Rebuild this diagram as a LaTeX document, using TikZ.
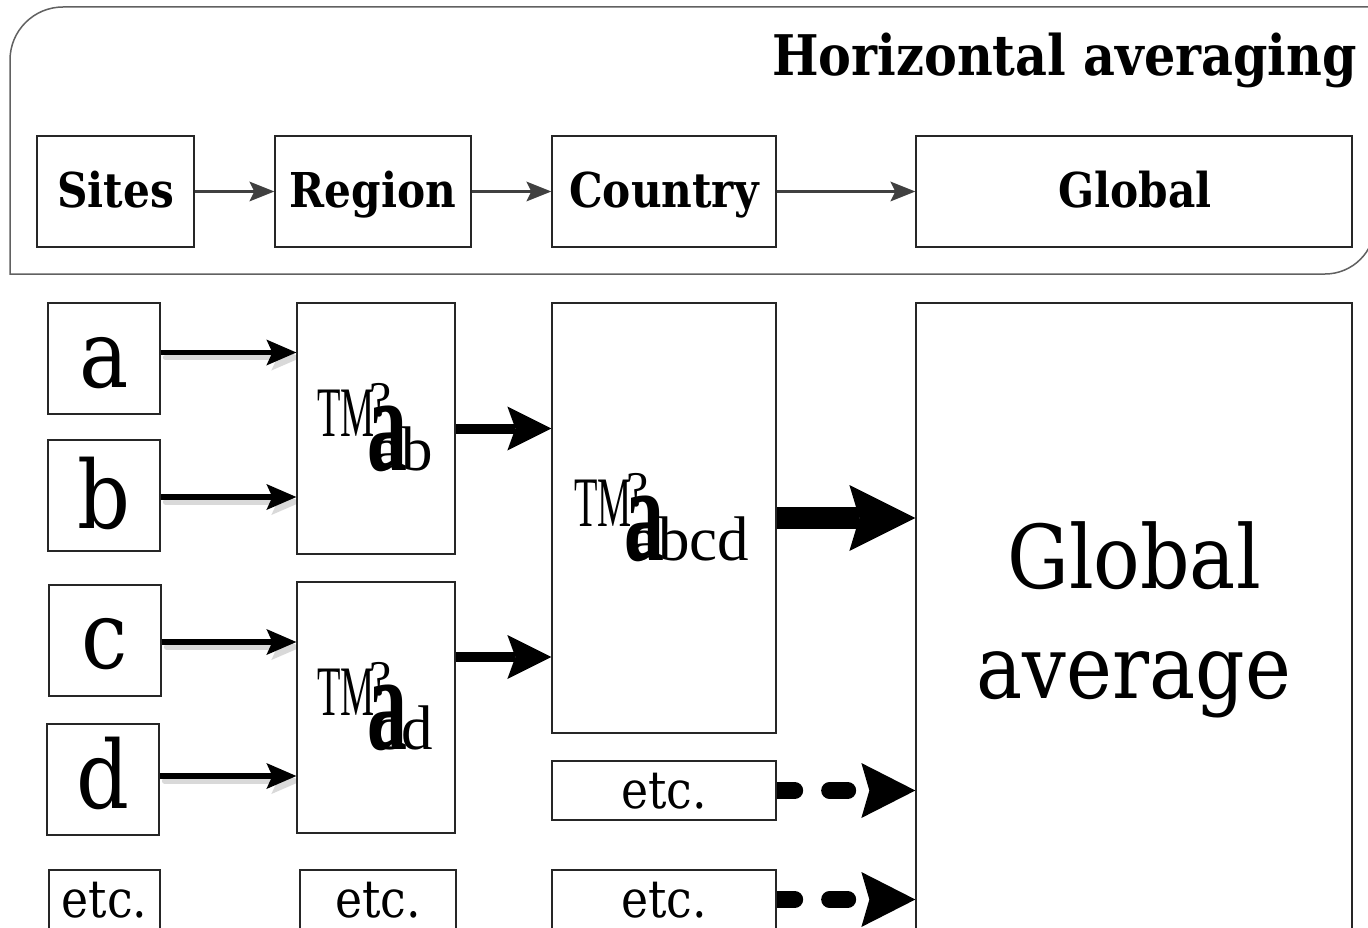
\documentclass[tikz,border=0pt]{standalone}
\usepackage{fontspec}
\usepackage{graphicx}
\usetikzlibrary{arrows.meta}
\newfontfamily\cam[FakeStretch=0.88]{DejaVu Serif}
\newfontfamily\tms{Liberation Serif}
\newfontfamily\tmsc[FakeStretch=0.54]{Liberation Serif}
\newcommand\fs[1]{\fontsize{#1}{#1}\selectfont}
\pgfdeclarelayer{bg}
\pgfdeclarelayer{paper}
\pgfsetlayers{paper,bg,main}
\tikzset{
  box/.style={draw=black!85, line width=1.3pt, fill=white, inner sep=0pt, rectangle},
  lbl/.style={inner sep=0pt, anchor=base},
  toparrow/.style={draw=black!75, line width=3pt, -{Stealth[length=25pt,width=20pt,inset=5pt,line width=0pt]}},
  sitearrow/.style={line width=5.5pt, line cap=round, -{Stealth[length=30pt,width=26pt,inset=6pt,line width=0pt]}},
  regarrow/.style={line width=10pt, -{Stealth[length=44pt,width=44pt,inset=8pt,line width=0pt]}},
  cntarrow/.style={line width=22pt, -{Stealth[length=66pt,width=66pt,inset=10pt,line width=0pt]}},
  dasharrow/.style={line width=17pt, line cap=round, dash pattern=on 18pt off 35pt, -{Stealth[length=54pt,width=55pt,inset=8pt,line width=0pt]}},
}
\newcommand\tmlab[4]{%
  \node[inner sep=0pt, anchor=base west, font=\tmsc\fs{71}] (#1T) at ({#2-56},{#3-34}) {TM};
  \node[inner sep=0pt, anchor=north west, font=\tms\fs{50}] (#1q) at ({#2-4},{#3-87}) {?};
  \node[inner sep=0pt, anchor=base west] (#1a) at ({#2-6},#3) {\scalebox{1}[1.72]{\tms\bfseries\fs{80}a}};
  \node[inner sep=0pt, anchor=base west, font=\tms\fs{63}] (#1s) at (#2,#3) {#4};
}
\begin{document}
\begin{tikzpicture}[x=1pt,y=-1pt]
\useasboundingbox (0,0) rectangle (1368,928);
\clip (0,0) rectangle (1368,928);
\begin{pgfonlayer}{paper}
\fill[white] (0,0) rectangle (1368,928);
\end{pgfonlayer}

% outer frame
\draw[draw=black!62, line width=1.5pt] (10,274) -- (10,60) arc[start angle=180, end angle=90, radius=53pt]
  -- (1375,7) -- (1375,224) arc[start angle=0, end angle=-90, radius=50pt] -- cycle;
\node[lbl, anchor=base east, font=\cam\bfseries\fs{56}] (title) at (1357,76) {Horizontal averaging};

% top row
\node[box, minimum width=157pt, minimum height=111pt] (tsites) at (115.5,191.5) {};
\node[box, minimum width=196pt, minimum height=111pt] (tregion) at (373,191.5) {};
\node[box, minimum width=224pt, minimum height=111pt] (tcountry) at (664,191.5) {};
\node[box, minimum width=436pt, minimum height=111pt] (tglobal) at (1134,191.5) {};
\node[lbl, font=\cam\bfseries\fs{48}] (lsites) at (115.5,208) {Sites};
\node[lbl, font=\cam\bfseries\fs{48}] (lregion) at (373,208) {Region};
\node[lbl, font=\cam\bfseries\fs{48}] (lcountry) at (664,208) {Country};
\node[lbl, font=\cam\bfseries\fs{48}] (lglobal) at (1135,208) {Global};

% sites
\node[box, minimum width=112pt, minimum height=111pt] (a) at (104,358.5) {};
\node[box, minimum width=112pt, minimum height=111pt] (b) at (104,495.5) {};
\node[box, minimum width=112pt, minimum height=111pt] (c) at (105,640.5) {};
\node[box, minimum width=112pt, minimum height=111pt] (d) at (103,779.5) {};
\node[box, minimum width=111pt, minimum height=59pt] (e1) at (104.5,899.5) {};
\node[lbl, font=\cam\fs{94}] (la) at (104,387) {a};
\node[lbl, font=\cam\fs{94}] (lb) at (104,528) {b};
\node[lbl, font=\cam\fs{94}] (lc) at (105,668) {c};
\node[lbl, font=\cam\fs{94}] (ld) at (103,808) {d};
\node[lbl, font=\cam\fs{52}] (le1) at (104.5,917) {etc.};

% regions
\node[box, minimum width=158pt, minimum height=251pt] (r1) at (376,428.5) {};
\node[box, minimum width=158pt, minimum height=251pt] (r2) at (376,707.5) {};
\node[box, minimum width=156pt, minimum height=59pt] (e2) at (378,899.5) {};
\node[lbl, font=\cam\fs{52}] (le2) at (378,917) {etc.};
\tmlab{r1}{373}{470}{ab}
\tmlab{r2}{373}{749}{cd}

% country
\node[box, minimum width=224pt, minimum height=430pt] (C) at (664,518) {};
\node[box, minimum width=224pt, minimum height=59pt] (e3) at (664,790.5) {};
\node[box, minimum width=224pt, minimum height=59pt] (e4) at (664,899.5) {};
\node[lbl, font=\cam\fs{52}] (le3) at (664,808) {etc.};
\node[lbl, font=\cam\fs{52}] (le4) at (664,917) {etc.};
\tmlab{c1}{630}{560}{abcd}

% global
\node[box, minimum width=436pt, minimum height=640pt] (G) at (1134,623) {};
\node[lbl, font=\cam\fs{88}] (lg1) at (1134,588) {Global};
\node[lbl, font=\cam\fs{88}] (lg2) at (1134,698) {average};

% arrow start points
\coordinate (ao) at ([yshift=6pt]a.east);
\coordinate (bo) at ([yshift=-1.5pt]b.east);
\coordinate (co) at ([yshift=-1.5pt]c.east);
\coordinate (do) at ([yshift=3.5pt]d.east);
\coordinate (r2o) at ([yshift=50.5pt]r2.east);

\begin{pgfonlayer}{bg}
% top arrows
\draw[toparrow] (tsites.east) -- (tregion.west);
\draw[toparrow] (tregion.east) -- (tcountry.west);
\draw[toparrow] (tcountry.east) -- (tglobal.west);
% site arrows with shadows
\begin{scope}[transform canvas={shift={(5pt,-5pt)}}]
\draw[sitearrow, draw=black!15] (ao) -- (ao -| r1.west);
\draw[sitearrow, draw=black!15] (bo) -- (bo -| r1.west);
\draw[sitearrow, draw=black!15] (co) -- (co -| r2.west);
\draw[sitearrow, draw=black!15] (do) -- (do -| r2.west);
\end{scope}
\draw[sitearrow] (ao) -- (ao -| r1.west);
\draw[sitearrow] (bo) -- (bo -| r1.west);
\draw[sitearrow] (co) -- (co -| r2.west);
\draw[sitearrow] (do) -- (do -| r2.west);
% region arrows
\draw[regarrow] (r1.east) -- (r1.east -| C.west);
\draw[regarrow] (r2o) -- (r2o -| C.west);
% country arrow
\draw[cntarrow] (C.east) -- (C.east -| G.west);
% dashed etc arrows
\draw[dasharrow] (e3.east) -- (e3.east -| G.west);
\draw[dasharrow] (e4.east) -- (e4.east -| G.west);
\end{pgfonlayer}
\end{tikzpicture}
\end{document}
